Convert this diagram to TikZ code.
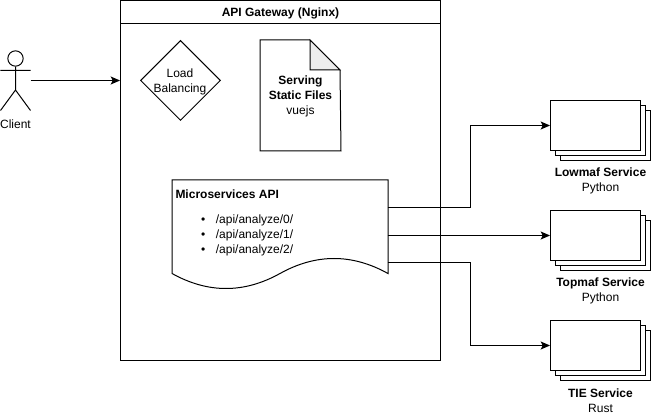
\documentclass[tikz,border=0pt]{standalone}
\usepackage{fontspec}
\setmainfont{Liberation Sans}
\usetikzlibrary{arrows.meta}
\usetikzlibrary{shapes.geometric}

\tikzset{
	every node/.style={font=\fontsize{9}{11.25}\selectfont},
	box/.style={draw, fill=white, inner sep=0pt},
	servicebox/.style={box, minimum width=67.5pt, minimum height=37.5pt},
	flow/.style={-{Stealth[length=7pt, width=6pt, inset=1.5pt]}},
}

\begin{document}
\begin{tikzpicture}[x=0.75pt, y=-0.75pt, line width=0.75pt]
		\useasboundingbox (0,0) rectangle (651,417);
		% gateway
		\node (gateway) [box, minimum width=240pt, minimum height=270pt] at (280.5,180.5) {};
		\node (gatewaytitle) [box, minimum width=240pt, minimum height=17.25pt, text depth=0pt, anchor=north] at (gateway.north) {\textbf{API Gateway (Nginx)}};
		% client
		\node (head) [draw, circle, minimum size=11.5pt, inner sep=0pt] at (15.5,58.5) {};
		\coordinate (neck) at (15.5,90);
		\coordinate (clientr) at (30.5,80.5);
		\draw (head.south) -- (neck) -- (0.5,110.5) (neck) -- (30.5,110.5) (0.5,70.5) -- (30.5,70.5);
		\node (client) at (15.5,124.5) {Client};
		\draw[flow] (clientr) -- (clientr -| gateway.west);
		% load balancing
		\node (lb) [draw, diamond, aspect=1, minimum size=60pt, inner sep=0pt] at (180.5,80.5) {};
		\node (lbtext) [align=center] at (180,81.5) {Load\\Balancing};
		% static files
		\node (files) [minimum width=60pt, minimum height=82.5pt, inner sep=0pt] at (300.5,95.5) {};
		\node (filestext) [align=center] at (300.5,96.5) {\textbf{Serving}\\\textbf{Static Files}\\vuejs};
		\draw (files.north west) -- ++(50,0) coordinate (foldtop) -- ++(30,30) coordinate (foldright) -- (files.south east) -- (files.south west) -- cycle;
		\draw[fill=black!7] (foldtop) -- (foldtop |- foldright) -- (foldright) -- cycle;
		% api
		\node (api) [minimum width=161.25pt, minimum height=69.375pt, inner sep=0pt] at (280,226.75) {};
		\draw (api.north west) -- (api.north east) -- (api.south east)
		.. controls +(-36,-20) and +(36,-20) .. (api.south)
		.. controls +(-36,20) and +(36,20) .. (api.south west) -- cycle;
		\node (apititle) [anchor=west, inner sep=0pt] at (175,194) {\textbf{Microservices API}};
		\node (apilist) [anchor=west, inner sep=0pt, align=left] at (200.5,235.5) {\textbullet\hspace{8pt}/api/analyze/0/\\\textbullet\hspace{8pt}/api/analyze/1/\\\textbullet\hspace{8pt}/api/analyze/2/};
		\coordinate (api0) at (387.5,208);
		\coordinate (api1) at (387.5,235.5);
		\coordinate (api2) at (387.5,263);
		\coordinate (elbow) at (470,0);
		% services
		\foreach \i/\yy/\name/\lang in {0/125.5/Lowmaf Service/Python, 1/235.5/Topmaf Service/Python, 2/345.5/TIE Service/Rust}
		{
			\node (back\i) [servicebox] at (605.5,\yy+10) {};
			\node (mid\i) [servicebox] at (600.5,\yy+5) {};
			\node (svc\i) [servicebox] at (595.5,\yy) {};
			\node (label\i) [align=center] at (600.5,\yy+55.5) {\textbf{\name}\\\lang};
			\draw[flow] (api\i) -- (api\i -| elbow) |- (svc\i.west);
		}
\end{tikzpicture}
\end{document}
